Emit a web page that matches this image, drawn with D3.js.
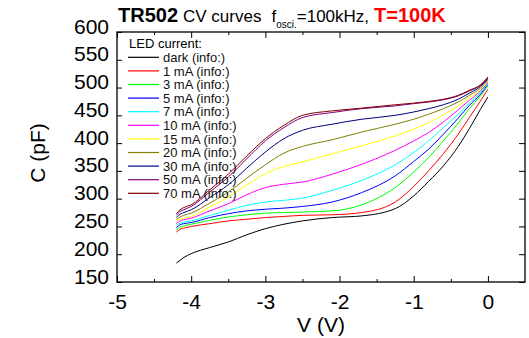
<!DOCTYPE html>
<html>
<head>
<meta charset="utf-8">
<script src="https://d3js.org/d3.v7.min.js"></script>
<style>
  body { margin: 0; background: #ffffff; }
  text { font-family: Arial, "Liberation Sans", sans-serif; }
</style>
</head>
<body>
<div id="my_dataviz"></div>
<script>

// bias voltage (V), same grid for every curve
var voltage = [-4.2, -4.15, -4.1, -4.0, -3.75, -3.5, -3.25, -3.0, -2.75, -2.5,
               -2.1, -1.7, -1.25, -1.0, -0.8, -0.6, -0.4, -0.25, -0.1, 0];

// capacitance (pF) per LED current
var dark  = [184, 189, 194, 201, 212, 222, 235, 246, 254, 260, 266, 269, 282, 305, 331, 359, 394, 426, 461, 483];
var mA1   = [240, 245, 247, 250, 255, 260, 263, 266, 268, 270, 271, 275, 294, 322, 350, 381, 416, 446, 476, 497];
var mA3   = [244, 249, 251, 254, 261, 267, 271, 274, 275, 276, 278, 289, 320, 348, 374, 404, 436, 462, 485, 503];
var mA5   = [248, 253, 255, 257, 266, 273, 278, 281, 283, 286, 294, 311, 341, 367, 389, 416, 445, 468, 488, 506];
var mA7   = [252, 256, 258, 260, 270, 279, 288, 294, 297, 301, 315, 333, 361, 383, 404, 428, 452, 472, 491, 508];
var mA10  = [255, 260, 262, 265, 278, 291, 307, 320, 326, 330, 344, 362, 387, 404, 419, 438, 460, 477, 494, 510];
var mA15  = [259, 263, 265, 268, 285, 303, 325, 345, 358, 366, 381, 395, 413, 425, 437, 451, 467, 481, 496, 511];
var mA20  = [262, 267, 270, 274, 292, 312, 337, 361, 382, 394, 406, 420, 434, 443, 452, 462, 474, 486, 499, 513];
var mA30  = [266, 272, 275, 280, 302, 325, 355, 384, 408, 423, 434, 443, 450, 456, 462, 469, 479, 490, 502, 515];
var mA50  = [270, 277, 280, 286, 312, 339, 372, 404, 428, 446, 455, 462, 467, 471, 474, 478, 485, 494, 504, 517];
var mA70  = [273, 280, 284, 289, 316, 344, 377, 408, 432, 450, 458, 463, 469, 472, 475, 479, 486, 495, 505, 519];

var seriesNames  = ["dark", "1 mA", "3 mA", "5 mA", "7 mA", "10 mA", "15 mA", "20 mA", "30 mA", "50 mA", "70 mA"];
var seriesValues = [dark, mA1, mA3, mA5, mA7, mA10, mA15, mA20, mA30, mA50, mA70];
var seriesColors = ["#000000", "#ff0000", "#00ff00", "#0000ff", "#00ffff", "#ff00ff",
                    "#ffff00", "#808000", "#000080", "#800080", "#800000"];

var xTicks = [-5, -4, -3, -2, -1, 0];
var xMinor = [-4.5, -3.5, -2.5, -1.5, -0.5];
var yTicks = [150, 200, 250, 300, 350, 400, 450, 500, 550, 600];

// set the dimensions and margins of the graph
var margin = {top: 32, right: 4, bottom: 56, left: 117},
    width = 529 - margin.left - margin.right,
    height = 338 - margin.top - margin.bottom;

var svg = d3.select("#my_dataviz")
  .append("svg")
    .attr("width", 529)
    .attr("height", 338)
  .append("g")
    .attr("transform", "translate(" + margin.left + "," + margin.top + ")");

var x = d3.scaleLinear().domain([-5, 0.5]).range([0, width]);
var y = d3.scaleLinear().domain([150, 600]).range([height, 0]);

// curves
var line = d3.line()
  .x(function(d) { return x(d[0]); })
  .y(function(d) { return y(d[1]); })
  .curve(d3.curveMonotoneX);

seriesValues.forEach(function(vals, i) {
  svg.append("path")
    .datum(voltage.map(function(v, j) { return [v, vals[j]]; }))
    .attr("fill", "none")
    .attr("stroke", seriesColors[i])
    .attr("stroke-width", 1)
    .attr("d", line);
});

// axes, ticks pointing inward on all four sides
var bottom = svg.append("g")
  .attr("transform", "translate(0," + height + ")")
  .call(d3.axisBottom(x).tickValues(xTicks).tickSizeInner(-6).tickSizeOuter(0).tickPadding(12)
        .tickFormat(function(d) { return d; }));
bottom.selectAll(".tick text").attr("font-size", 21).attr("fill", "#000").attr("dy", "0.71em");

svg.append("g")
  .attr("transform", "translate(0," + height + ")")
  .call(d3.axisBottom(x).tickValues(xMinor).tickSizeInner(-3).tickSizeOuter(0).tickFormat(""));

svg.append("g")
  .call(d3.axisTop(x).tickValues(xTicks).tickSizeInner(-6).tickSizeOuter(0).tickFormat(""));
svg.append("g")
  .call(d3.axisTop(x).tickValues(xMinor).tickSizeInner(-3).tickSizeOuter(0).tickFormat(""));

var left = svg.append("g")
  .call(d3.axisLeft(y).tickValues(yTicks).tickSizeInner(-5).tickSizeOuter(0).tickPadding(8));
left.selectAll(".tick text").attr("font-size", 21).attr("fill", "#000").attr("dy", "0.05em");

svg.append("g")
  .attr("transform", "translate(" + width + ",0)")
  .call(d3.axisRight(y).tickValues(yTicks).tickSizeInner(-6).tickSizeOuter(0).tickFormat(""));

svg.selectAll(".domain").remove();
svg.selectAll(".tick line").attr("stroke", "#000").attr("stroke-width", 1);

// frame
svg.append("rect")
  .attr("width", width)
  .attr("height", height)
  .attr("fill", "none")
  .attr("stroke", "#000")
  .attr("stroke-width", 1.3);

// axis titles
svg.append("text")
  .attr("x", width / 2)
  .attr("y", height + 50)
  .attr("text-anchor", "middle")
  .attr("font-size", 21)
  .text("V (V)");

svg.append("text")
  .attr("transform", "translate(" + (-79) + "," + (height / 2 - 4) + ") rotate(-90)")
  .attr("text-anchor", "middle")
  .attr("dy", "0.35em")
  .attr("font-size", 21)
  .text("C (pF)");

// title
var title = svg.append("text")
  .attr("x", 1)
  .attr("y", -10);
title.append("tspan").attr("font-size", 20).attr("font-weight", "bold").text("TR502");
title.append("tspan").attr("font-size", 17).attr("dx", 5).text("CV curves");
title.append("tspan").attr("font-size", 17).attr("dx", 10).text("f");
title.append("tspan").attr("font-size", 10).attr("dy", 6).text("osci.");
title.append("tspan").attr("font-size", 17).attr("dy", -6).text("=100kHz,");
title.append("tspan").attr("font-size", 20).attr("font-weight", "bold").attr("fill", "#ff0000")
  .attr("dx", 5).text("T=100K");

// legend
var legend = svg.append("g").attr("transform", "translate(11,0)");
legend.append("text")
  .attr("x", 1)
  .attr("y", 16)
  .attr("font-size", 13)
  .text("LED current:");

var rowH = 13.6;
seriesNames.forEach(function(name, i) {
  var yy = 25.3 + i * rowH;
  legend.append("line")
    .attr("x1", 0).attr("x2", 31)
    .attr("y1", yy).attr("y2", yy)
    .attr("stroke", seriesColors[i])
    .attr("stroke-width", 1.2);
  legend.append("text")
    .attr("x", 35)
    .attr("y", yy)
    .attr("dy", "0.36em")
    .attr("font-size", 13)
    .attr("fill", "#111")
    .text(name + " (info:)");
});

</script>
</body>
</html>
